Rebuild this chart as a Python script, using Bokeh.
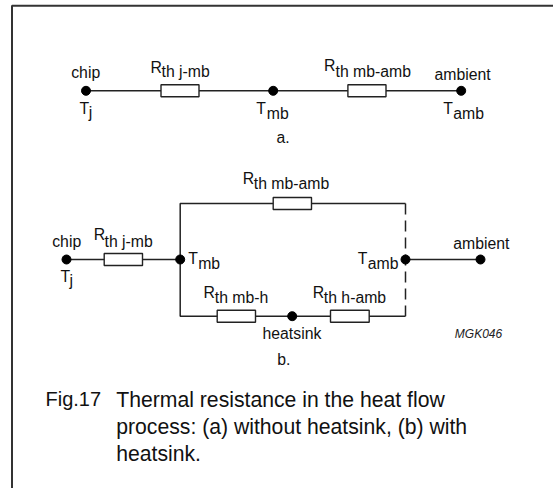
from bokeh.plotting import figure
from bokeh.models import Range1d
from bokeh.core.properties import value
from bokeh.embed import file_html
from bokeh.resources import INLINE

INK = "#222222"
FONT = value("Liberation Sans")

# frame (open on the right and at the bottom)
frame_x = [11.5, 11.5, 553]
frame_y = [488, 5.3, 5.3]

# wires
wires = [
    ([85.5, 460.7], [90.3, 90.3]),
    ([66, 179.7], [259, 259]),
    ([179.7, 179.7, 405], [259, 203, 203]),
    ([179.7, 179.7, 405], [259, 315.7, 315.7]),
    ([405, 480], [259, 259]),
]
dashed_x = [405, 405]
dashed_y = [203, 315.7]

# resistors: left, right, centre y
res_left = [160.5, 347.4, 103.7, 272.7, 216.7, 330]
res_right = [198.5, 385.5, 142, 311, 255, 368.7]
res_cy = [90.3, 90.3, 259, 203, 315.7, 315.7]

# nodes
node_x = [85.5, 272.7, 460.7, 66, 179.7, 405, 480, 291.7]
node_y = [90.3, 90.3, 90.3, 259, 259, 259, 259, 315.7]

# label texts
big_text = ["chip", "R", "T", "T", "a.", "R", "ambient", "T",
            "chip", "R", "T", "T", "R", "heatsink", "b.", "R", "T", "ambient", "R"]
big_x = [70.7, 150, 79, 255.7, 276, 323.5, 434, 442.7,
         51.7, 93.3, 60, 187.7, 203, 262, 276.7, 242.3, 357.3, 452.7, 312.3]
big_y = [76.7, 71.7, 112.5, 112.7, 141.7, 70, 79.3, 112.7,
         246, 239.3, 280.7, 263, 296.7, 337.7, 364, 183.3, 263.3, 247.7, 296.7]

sub_text = ["th j-mb", "j", "mb", "th mb-amb", "amb",
            "th j-mb", "j", "mb", "th mb-h", "th mb-amb", "amb", "th h-amb"]
sub_x = [161, 88.3, 266.3, 335, 452.7,
         104, 69, 197.7, 214.3, 253.3, 367.3, 323.3]
sub_y = [76, 116.5, 117.5, 76, 117.7,
         245.7, 285, 268, 301.7, 188.3, 268.3, 301.7]

code_text = ["MGK046"]
code_x = [454.3]
code_y = [336.7]

fig_text = ["Fig.17"]
fig_x = [45]
fig_y = [405]

cap_text = ["Thermal resistance in the heat flow",
            "process: (a) without heatsink, (b) with", "heatsink."]
cap_x = [115.7, 115.7, 115.7]
cap_y = [405, 432.3, 459.3]

p = figure(width=553, height=488, output_backend="svg", toolbar_location=None,
           x_range=Range1d(0, 553), y_range=Range1d(488, 0),
           min_border=0, outline_line_color=None, background_fill_color="white")
p.axis.visible = False
p.grid.visible = False
p.styles = {"position": "absolute", "left": "0px", "top": "0px"}

p.line(frame_x, frame_y, line_color="#333333", line_width=2)
for wx, wy in wires:
    p.line(wx, wy, line_color=INK, line_width=1.5)
p.line(dashed_x, dashed_y, line_color=INK, line_width=1.5, line_dash="11 6")

p.quad(left=res_left, right=res_right,
       top=[c - 6 for c in res_cy], bottom=[c + 6 for c in res_cy],
       fill_color="white", line_color=INK, line_width=1.4)
p.scatter(node_x, node_y, size=9, marker="circle", fill_color="black", line_color="black")

p.text(big_x, big_y, text=big_text, text_font=FONT, text_font_size="15.8px", y_offset=-5,
       text_color="#111111", text_baseline="alphabetic", text_align="left")
p.text(sub_x, sub_y, text=sub_text, text_font=FONT, text_font_size="15.8px", y_offset=-5,
       text_color="#111111", text_baseline="alphabetic", text_align="left")
p.text(code_x, code_y, text=code_text, text_font=FONT, text_font_size="12px", y_offset=-3.5,
       text_font_style="italic", text_color="#222222", text_baseline="alphabetic", text_align="left")
p.text(fig_x, fig_y, text=fig_text, text_font=FONT, text_font_size="20px", y_offset=-6.5,
       text_color="#111111", text_baseline="alphabetic", text_align="left")
p.text(cap_x, cap_y, text=cap_text, text_font=FONT, text_font_size="21.2px", y_offset=-6.5,
       text_color="#111111", text_baseline="alphabetic", text_align="left")

open("out.html", "w").write(file_html(p, INLINE))
